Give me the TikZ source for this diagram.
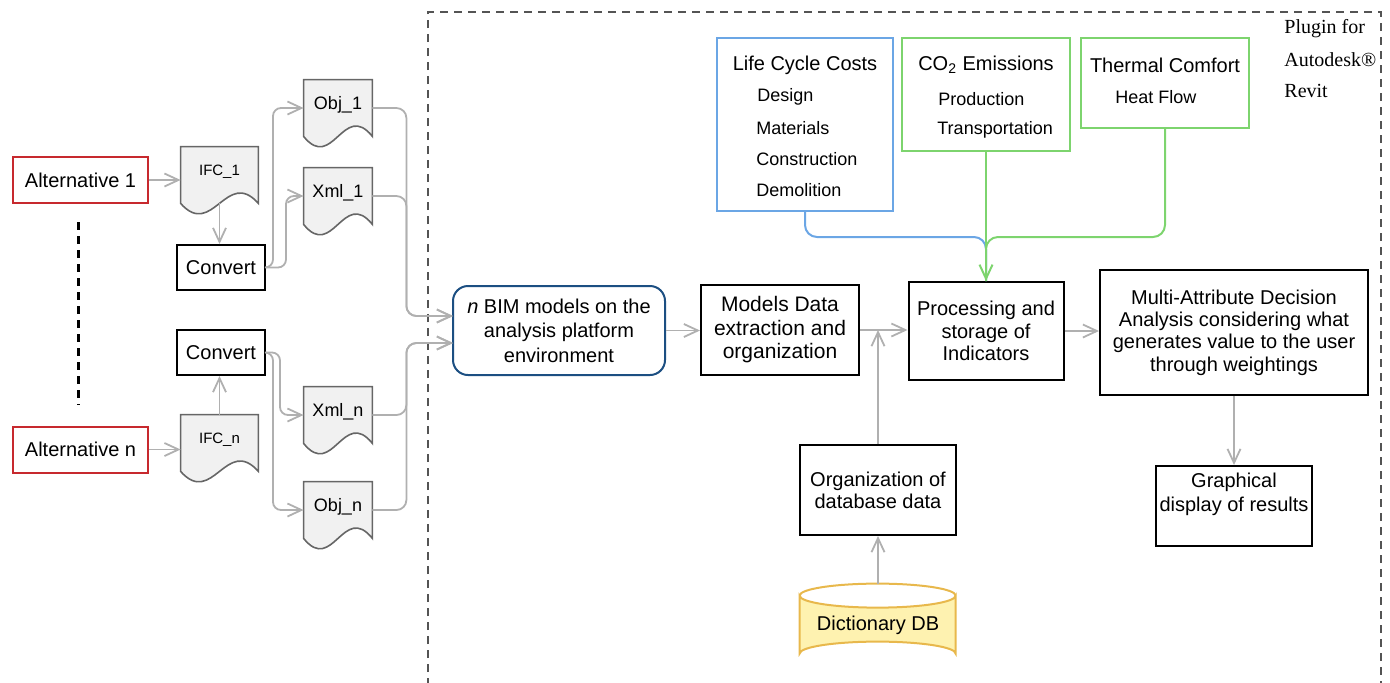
\documentclass[tikz,border=0pt]{standalone}
\usepackage{fontspec}
\setmainfont{Liberation Sans}
\newfontfamily\revitfont{Liberation Serif}
\usetikzlibrary{arrows.meta}

\newlength{\du}
\setlength{\du}{0.5pt}

\definecolor{linkgray}{rgb}{0.690000, 0.690000, 0.690000}
\definecolor{altred}{rgb}{0.780000, 0.160000, 0.180000}
\definecolor{bimblue}{rgb}{0.110000, 0.310000, 0.510000}
\definecolor{costblue}{rgb}{0.420000, 0.650000, 0.900000}
\definecolor{emitgreen}{rgb}{0.490000, 0.830000, 0.430000}
\definecolor{docfill}{rgb}{0.945000, 0.945000, 0.945000}
\definecolor{docedge}{rgb}{0.400000, 0.400000, 0.400000}
\definecolor{dbfill}{rgb}{0.995000, 0.950000, 0.690000}
\definecolor{dbedge}{rgb}{0.910000, 0.720000, 0.300000}
\definecolor{framegray}{rgb}{0.330000, 0.330000, 0.330000}

\pgfdeclarelayer{shapes}
\pgfsetlayers{shapes,main}

\tikzset{
  box/.style={draw=black, line width=2\du, fill=white, inner sep=0pt, align=center,
    font=\fontsize{10pt}{11.5pt}\selectfont},
  altbox/.style={box, draw=altred, minimum width=135\du, minimum height=46\du},
  convbox/.style={box, minimum width=88\du, minimum height=45\du},
  doc/.style={inner sep=0pt, text height=6.5pt, text depth=5pt,
    font=\fontsize{9pt}{10pt}\selectfont, minimum width=68\du, minimum height=56\du},
  ifcdoc/.style={doc, text height=5.5pt, text depth=5.5pt,
    font=\fontsize{7.5pt}{9pt}\selectfont, minimum width=77\du},
  topbox/.style={line width=2\du, fill=white, inner sep=0pt},
  headtext/.style={inner sep=0pt, font=\fontsize{10pt}{12pt}\selectfont},
  itemtext/.style={inner sep=0pt, anchor=west, font=\fontsize{9pt}{11pt}\selectfont},
  plugtext/.style={inner sep=0pt, anchor=base west, font=\revitfont\fontsize{10pt}{12pt}\selectfont},
  tip/.style={-{Straight Barb[length=7pt,width=6.5pt]}},
  link/.style={draw=linkgray, line width=1.8\du, tip},
  costlink/.style={draw=costblue, line width=2\du, rounded corners=12\du},
  emitlink/.style={draw=emitgreen, line width=2\du, rounded corners=12\du},
}

% document outline with wavy foot, behind the node text
\newcommand{\docshape}[2]{%
  \begin{pgfonlayer}{shapes}
  \filldraw[fill=docfill, draw=docedge, line width=1.6\du]
    (#1.south west) -- (#1.north west) -- (#1.north east) -- (#1.south east)
    .. controls +(-#2\du,-36\du) and +(#2\du,36\du) .. (#1.south west) -- cycle;
  \end{pgfonlayer}}

\begin{document}
\begin{tikzpicture}
\pgftransformyscale{-1.000000}
\useasboundingbox (0\du,0\du) rectangle (1390\du,682\du);

% plugin frame
\draw[draw=framegray, line width=2\du, dash pattern=on 8\du off 6\du]
  (428\du,700\du) -- (428\du,12\du) -- (1381\du,12\du) -- (1381\du,700\du);
\node[plugtext] (plug1) at (1284\du,33\du) {Plugin for};
\node[plugtext] (plug2) at (1284\du,66\du) {Autodesk®};
\node[plugtext] (plug3) at (1284\du,97\du) {Revit};

% alternatives
\node[altbox] (alt1) at (80.5\du,180\du) {Alternative 1};
\node[altbox] (altn) at (80.5\du,449.5\du) {Alternative n};
\draw[line width=3\du, dash pattern=on 8\du off 6\du] (78\du,222\du) -- (78\du,405\du);

% files
\node[ifcdoc] (ifc1) at (219.5\du,175\du) {IFC\_1};
\docshape{ifc1}{32}
\node[ifcdoc] (ifcn) at (219.5\du,443\du) {IFC\_n};
\docshape{ifcn}{32}
\node[convbox] (conv1) at (221\du,267.5\du) {Convert};
\node[convbox] (convn) at (221\du,352.5\du) {Convert};
\node[doc] (obj1) at (338\du,108\du) {Obj\_1};
\docshape{obj1}{29}
\node[doc] (xml1) at (338\du,196\du) {Xml\_1};
\docshape{xml1}{29}
\node[doc] (xmln) at (338\du,415\du) {Xml\_n};
\docshape{xmln}{29}
\node[doc] (objn) at (338\du,510\du) {Obj\_n};
\docshape{objn}{29}

% platform
\node[box, draw=bimblue, rounded corners=15\du, minimum width=212\du, minimum height=89\du,
  font=\fontsize{10pt}{12.25pt}\selectfont] (bim) at (559\du,330.5\du)
  {\textit{n} BIM models on the\\analysis platform\\environment};
\coordinate (in1) at (453\du,316\du);
\coordinate (in2) at (453\du,343\du);
\node[box, minimum width=158\du, minimum height=90\du,
  font=\fontsize{10.5pt}{11.75pt}\selectfont] (models) at (780\du,330\du)
  {Models Data\\extraction and\\organization};
\node[box, minimum width=155\du, minimum height=98\du,
  font=\fontsize{10pt}{11.25pt}\selectfont] (proc) at (986\du,331\du)
  {Processing and\\storage of\\Indicators};
\node[box, minimum width=268\du, minimum height=125\du,
  font=\fontsize{10pt}{11.2pt}\selectfont] (mada) at (1234\du,332.5\du)
  {Multi-Attribute Decision\\Analysis considering what\\generates value to the user\\through weightings};
\node[box, minimum width=156\du, minimum height=80\du] (graph) at (1234\du,506\du) {};
\node[inner sep=0pt, align=center, font=\fontsize{10pt}{12pt}\selectfont] (graphtxt)
  at (1234\du,494\du) {Graphical\\display of results};
\node[box, minimum width=156\du, minimum height=90\du,
  font=\fontsize{10pt}{11pt}\selectfont] (org) at (878\du,490\du)
  {Organization of\\database data};

% database
\node[inner sep=0pt, minimum width=156\du, minimum height=82\du,
  font=\fontsize{10pt}{12pt}\selectfont] (db) at (878\du,625\du) {Dictionary DB};
\begin{pgfonlayer}{shapes}
\filldraw[fill=dbfill, draw=dbedge, line width=2\du]
  (db.north west) ++(0,12\du) -- ++(0,58\du)
  arc[start angle=180, end angle=360, x radius=78\du, y radius=12\du]
  -- ++(0,-58\du)
  arc[start angle=0, end angle=180, x radius=78\du, y radius=12\du] -- cycle;
\draw[draw=dbedge, line width=2\du] (db.north west) ++(0,12\du)
  arc[start angle=180, end angle=360, x radius=78\du, y radius=12\du];
\end{pgfonlayer}

% indicators
\node[topbox, draw=costblue, minimum width=176\du, minimum height=173\du] (lcc) at (805\du,124.5\du) {};
\node[headtext] (lcchead) at (805\du,65\du) {Life Cycle Costs};
\node[itemtext] (lcc1) at (757\du,97\du) {Design};
\node[itemtext] (lcc2) at (756\du,128\du) {Materials};
\node[itemtext] (lcc3) at (756\du,159\du) {Construction};
\node[itemtext] (lcc4) at (756\du,190\du) {Demolition};
\node[topbox, draw=emitgreen, minimum width=168\du, minimum height=113\du] (co2) at (986\du,94.5\du) {};
\node[headtext] (co2head) at (986\du,65\du) {CO\textsubscript{2} Emissions};
\node[itemtext] (co21) at (938\du,99\du) {Production};
\node[itemtext] (co22) at (937\du,130\du) {Transportation};
\node[topbox, draw=emitgreen, minimum width=168\du, minimum height=90\du] (therm) at (1165\du,83\du) {};
\node[headtext] (thermhead) at (1165\du,65\du) {Thermal Comfort};
\node[itemtext] (therm1) at (1115\du,97\du) {Heat Flow};

% connectors
\draw[link] (alt1.east) -- (alt1.east -| ifc1.west);
\draw[link] (altn.east) -- (altn.east -| ifcn.west);
\draw[link] (ifc1.south) -- (ifc1.south |- conv1.north);
\draw[link] (ifcn.north) -- (ifcn.north |- convn.south);
\draw[link, rounded corners=8\du] (conv1.east) -- ++(7\du,0) |- (obj1.west);
\draw[link, rounded corners=8\du] (conv1.east) -- ++(20\du,0) |- (xml1.west);
\draw[link, rounded corners=8\du] (convn.east) -- ++(14\du,0) |- (xmln.west);
\draw[link, rounded corners=8\du] (convn.east) -- ++(7\du,0) |- (objn.west);
\draw[link, rounded corners=10\du] (obj1.east) -- ++(34\du,0) |- (in1);
\draw[link, rounded corners=10\du] (xml1.east) -- ++(34\du,0) |- (in1);
\draw[link, rounded corners=10\du] (xmln.east) -- ++(34\du,0) |- (in2);
\draw[link, rounded corners=10\du] (objn.east) -- ++(34\du,0) |- (in2);
\draw[link] (bim.east) -- (bim.east -| models.west);
\draw[link] (models.east) -- (models.east -| proc.west);
\draw[link] (org.north) -- (org.north |- models.east);
\draw[link] (db.north) -- (org.south);
\draw[link] (proc.east) -- (proc.east -| mada.west);
\draw[link] (mada.south) -- (graph.north);
\draw[costlink] (lcc.south) -- ++(0,25\du) -| (proc.north);
\draw[emitlink] (therm.south) -- ++(0,108\du) -| (proc.north);
\draw[emitlink, tip] (co2.south) -- (co2.south |- proc.north);
\end{tikzpicture}
\end{document}
